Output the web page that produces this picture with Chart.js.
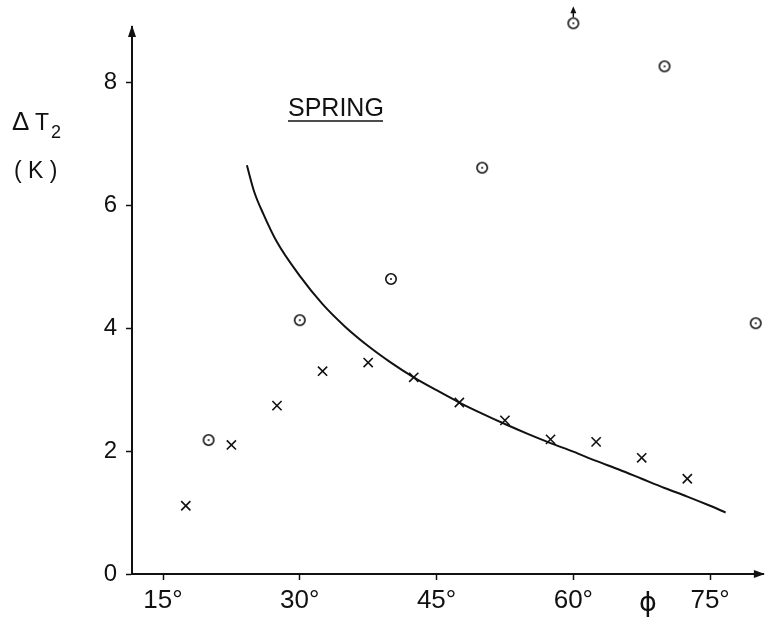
<!DOCTYPE html>
<html lang="en">
<head>
<script src="https://cdn.jsdelivr.net/npm/chart.js@4.4.1/dist/chart.umd.min.js"></script>
<style>
  body { margin: 0; background: #fff; }
  #wrap { width: 772px; height: 617px; }
</style>
</head>
<body>
<div id="wrap"><canvas id="myChart" width="772" height="617"></canvas></div>
<script>
// crosses (x)
const crossPhi = [17.5, 22.5, 27.5, 32.5, 37.5, 42.5, 47.5, 52.5, 57.5, 62.5, 67.5, 72.5];
const crossDT  = [1.11, 2.10, 2.74, 3.30, 3.44, 3.20, 2.79, 2.50, 2.19, 2.15, 1.89, 1.55];

// dotted circles
const circlePhi = [20, 30, 40, 50, 60, 70, 80];
const circleDT  = [2.18, 4.13, 4.80, 6.61, 8.96, 8.26, 4.08];

// fitted curve
const curvePhi = [24.2, 25.0, 26.0, 27.5, 30.0, 32.5, 35.0, 37.5, 40.0, 42.5, 45.0, 47.5, 50.0, 52.5, 55.0, 57.5, 60.0, 62.5, 65.0, 67.5, 70.0, 72.5, 75.0, 76.7];
const curveDT  = [6.65, 6.22, 5.86, 5.40, 4.85, 4.39, 4.02, 3.71, 3.44, 3.20, 2.99, 2.79, 2.61, 2.44, 2.28, 2.13, 1.99, 1.84, 1.70, 1.55, 1.40, 1.26, 1.11, 1.00];

const xTicks = [15, 30, 45, 60, 75];
const yTicks = [0, 2, 4, 6, 8];

const ink = '#111';
const font = 'Liberation Sans, Arial, sans-serif';

function toXY(xs, ys) {
    return xs.map((x, i) => ({x: x, y: ys[i]}));
}

// dotted circle marker
const dotCircle = document.createElement('canvas');
dotCircle.width = 14; dotCircle.height = 14;
(function () {
    const c = dotCircle.getContext('2d');
    c.strokeStyle = ink;
    c.lineWidth = 1.6;
    c.beginPath(); c.arc(7, 7, 5.2, 0, Math.PI * 2); c.stroke();
    c.fillStyle = ink;
    c.beginPath(); c.arc(7, 7, 1, 0, Math.PI * 2); c.fill();
})();

const extras = {
    id: 'extras',
    afterDraw(chart) {
        const ctx = chart.ctx;
        const a = chart.chartArea;
        ctx.save();
        ctx.fillStyle = ink;
        ctx.strokeStyle = ink;

        // axis arrows
        ctx.beginPath();
        ctx.moveTo(a.left, a.top - 2);
        ctx.lineTo(a.left - 4, a.top + 10);
        ctx.lineTo(a.left + 4, a.top + 10);
        ctx.closePath(); ctx.fill();
        ctx.beginPath();
        ctx.moveTo(a.right + 1, a.bottom);
        ctx.lineTo(a.right - 10, a.bottom - 4);
        ctx.lineTo(a.right - 10, a.bottom + 4);
        ctx.closePath(); ctx.fill();

        // off-scale arrow above the 60 deg circle
        const p = chart.getDatasetMeta(1).data[4];
        ctx.lineWidth = 1.5;
        ctx.beginPath();
        ctx.moveTo(p.x, p.y - 6);
        ctx.lineTo(p.x, p.y - 12);
        ctx.stroke();
        ctx.beginPath();
        ctx.moveTo(p.x, p.y - 17);
        ctx.lineTo(p.x - 3, p.y - 10);
        ctx.lineTo(p.x + 3, p.y - 10);
        ctx.closePath(); ctx.fill();

        // y label
        ctx.textBaseline = 'alphabetic';
        ctx.textAlign = 'left';
        ctx.font = '26px ' + font;
        ctx.fillText('\u0394', 12, 130);
        ctx.font = '23px ' + font;
        ctx.fillText('T', 35, 130);
        ctx.font = '18px ' + font;
        ctx.fillText('2', 51, 138);
        ctx.font = '23px ' + font;
        ctx.fillText('( K )', 14, 178);

        // title
        ctx.font = '25px ' + font;
        ctx.fillText('SPRING', 288, 116);
        ctx.lineWidth = 1.5;
        ctx.beginPath();
        ctx.moveTo(288, 121);
        ctx.lineTo(383, 121);
        ctx.stroke();

        // phi
        ctx.font = '27px DejaVu Sans, sans-serif';
        ctx.textAlign = 'center';
        ctx.fillText('\u03D5', 648, 611);
        ctx.restore();
    }
};

const ctx = document.getElementById('myChart').getContext('2d');

const myChart = new Chart(ctx, {
    type: 'scatter',
    data: {
        datasets: [
            {
                label: 'x',
                data: toXY(crossPhi, crossDT),
                pointStyle: 'crossRot',
                pointRadius: 6.5,
                borderColor: ink,
                borderWidth: 1.6,
                clip: false
            },
            {
                label: 'o',
                data: toXY(circlePhi, circleDT),
                pointStyle: dotCircle,
                clip: false
            },
            {
                label: 'curve',
                data: toXY(curvePhi, curveDT),
                showLine: true,
                pointRadius: 0,
                borderColor: ink,
                borderWidth: 2,
                cubicInterpolationMode: 'monotone',
                clip: false
            }
        ]
    },
    options: {
        responsive: false,
        animation: false,
        layout: { padding: { top: 27, right: 1, left: 0, bottom: 0 } },
        plugins: {
            legend: { display: false },
            tooltip: { enabled: false }
        },
        scales: {
            x: {
                type: 'linear',
                min: 11.6,
                max: 80.9,
                afterBuildTicks: s => { s.ticks = xTicks.map(v => ({value: v})); },
                afterFit: s => { s.height = 43; },
                border: { color: ink, width: 2 },
                grid: { drawOnChartArea: false, tickLength: 6, tickColor: ink, tickWidth: 1.5 },
                ticks: {
                    color: ink,
                    padding: 5,
                    maxRotation: 0,
                    font: { family: font, size: 26 },
                    callback: v => v + '\u00B0'
                }
            },
            y: {
                min: 0,
                max: 8.9,
                afterBuildTicks: s => { s.ticks = yTicks.map(v => ({value: v})); },
                afterFit: s => { s.width = 132; },
                border: { color: ink, width: 2 },
                grid: { drawOnChartArea: false, tickLength: 6, tickColor: ink, tickWidth: 1.5 },
                ticks: {
                    color: ink,
                    padding: 9,
                    font: { family: font, size: 24 }
                }
            }
        }
    },
    plugins: [extras]
});
</script>
</body>
</html>
